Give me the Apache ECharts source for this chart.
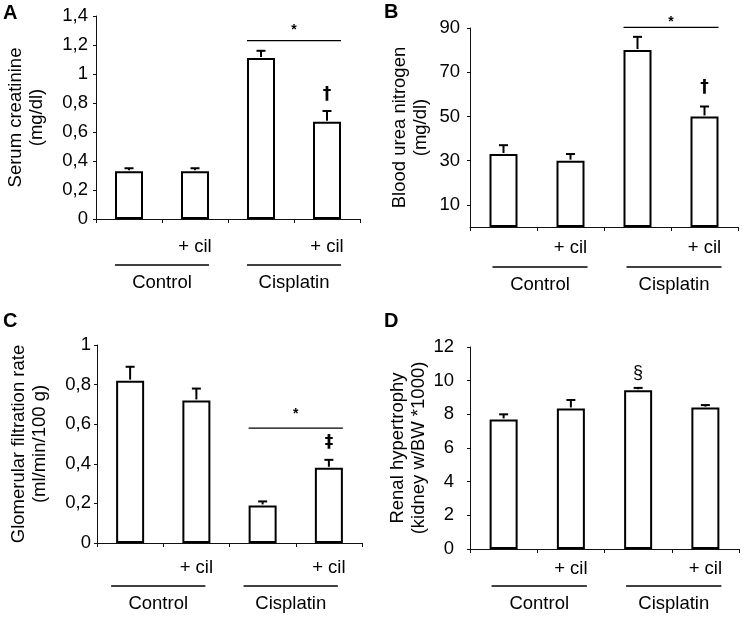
<!DOCTYPE html>
<html><head><meta charset="utf-8">
<script src="https://cdn.jsdelivr.net/npm/echarts@6/dist/echarts.min.js"></script>
<style>html,body{margin:0;padding:0;background:#fff}#c{width:742px;height:622px}</style>
</head><body><div id="c"></div>
<script>
// ---- data ----
const categories = ['', '+ cil', '', '+ cil'];
const groupNames = ['Control', 'Cisplatin'];
const creatinine = [0.33, 0.33, 1.11, 0.67];
const creatinineErr = [0.02, 0.02, 0.05, 0.075];
const bun = [33, 30, 80, 50];
const bunErr = [4, 3, 6, 4.5];
const gfr = [0.82, 0.72, 0.19, 0.38];
const gfrErr = [0.07, 0.06, 0.02, 0.04];
const hypertrophy = [7.7, 8.35, 9.43, 8.4];
const hypertrophyErr = [0.3, 0.5, 0.14, 0.15];
const bunTickValues = [10, 30, 50, 70, 90];
const panelLetters = ['A', 'B', 'C', 'D'];
const yNames = ['Serum creatinine\n(mg/dl)', 'Blood urea nitrogen\n(mg/dl)',
                'Glomerular filtration rate\n(ml/min/100 g)', 'Renal hypertrophy\n(kidney w/BW *1000)'];
// significance annotations (value-space)
const annA = [{kind:'sig', from:2, to:3, y:1.23, text:'*', ty:1.30}, {kind:'sym', from:3, y:0.855, text:'\u2020'}];
const annB = [{kind:'sig', from:2, to:3, y:90.3, text:'*', ty:92.8}, {kind:'sym', from:3, y:63, text:'\u2020'}];
const annC = [{kind:'sig', from:2, to:3, y:0.58, text:'*', ty:0.652}, {kind:'sym', from:3, y:0.505, text:'\u2021'}];
const annD = [{kind:'sym', from:2, y:10.46, text:'\u00a7', plain:true}];

// ---- layout / style ----
const FONT = '"Liberation Sans", Arial, sans-serif';
const SYMFONT = '"DejaVu Sans", "Liberation Sans", sans-serif';
const FS = 18.5;
const BAR_W = 28;
const CAP = 9;
const panels = [
  {grid:{left:96, top:16, width:264, height:203}, min:0, max:1.4, interval:0.2, vals:creatinine, errs:creatinineErr, ann:annA,
   nameGap:49, labelMargin:8, catMargin:18, gLine:46, gText:64, gdx:0, letter:[3,13]},
  {grid:{left:470, top:28, width:268, height:199}, min:0, max:90, custom:bunTickValues, vals:bun, errs:bunErr, ann:annB,
   nameGap:39, labelMargin:10, catMargin:11, gLine:40, gText:58, gdx:3, letter:[384,12]},
  {grid:{left:97, top:345, width:265, height:198}, min:0, max:1, interval:0.2, vals:gfr, errs:gfrErr, ann:annC,
   nameGap:47, labelMargin:6, catMargin:15, gLine:43, gText:61, gdx:-5, letter:[3,321]},
  {grid:{left:470, top:347, width:269, height:202}, min:0, max:12, interval:2, vals:hypertrophy, errs:hypertrophyErr, ann:annD,
   nameGap:40, labelMargin:16, catMargin:10, gLine:37, gText:55, gdx:2, letter:[384,321]}
];

const fmt = v => String(Math.round(v * 1000) / 1000).replace('.', ',');

const option = {
  animation: false,
  backgroundColor: '#fff',
  textStyle: {fontFamily: FONT, color: '#000'},
  grid: panels.map(p => p.grid),
  xAxis: panels.map((p, i) => ({
    type: 'category', gridIndex: i, data: categories,
    axisLine: {show: true, lineStyle: {color: '#111', width: 1}},
    axisTick: {show: true, length: 4, lineStyle: {color: '#111'}},
    axisLabel: {color: '#000', fontSize: FS, fontFamily: FONT, margin: p.catMargin, interval: 0}
  })),
  yAxis: panels.map((p, i) => {
    const ax = {
      type: 'value', gridIndex: i, min: p.min, max: p.max,
      name: yNames[i], nameLocation: 'middle', nameRotate: 90, nameGap: p.nameGap,
      nameTextStyle: {fontSize: FS, lineHeight: 21, color: '#000', fontFamily: FONT},
      axisLine: {show: true, lineStyle: {color: '#111', width: 1}},
      axisTick: {show: true, length: 3, lineStyle: {color: '#111'}},
      axisLabel: {color: '#000', fontSize: FS, fontFamily: FONT, margin: p.labelMargin, formatter: fmt},
      splitLine: {show: false}
    };
    if (p.custom) {
      ax.axisLabel.customValues = p.custom;
      ax.axisTick.customValues = p.custom;
    } else {
      ax.interval = p.interval;
    }
    return ax;
  }),
  series: []
};

panels.forEach((p, i) => {
  option.series.push({
    type: 'bar', xAxisIndex: i, yAxisIndex: i, data: p.vals, barWidth: BAR_W,
    itemStyle: {color: '#fff', borderColor: '#000', borderWidth: 2}, z: 2
  });
  option.series.push({
    type: 'custom', xAxisIndex: i, yAxisIndex: i, z: 3, clip: false,
    data: p.vals.map((v, k) => [k, v, v + p.errs[k]]),
    renderItem(params, api) {
      const base = api.coord([api.value(0), api.value(1)]);
      const top = api.coord([api.value(0), api.value(2)]);
      const st = {stroke: '#000', lineWidth: 2};
      return {type: 'group', children: [
        {type: 'line', shape: {x1: base[0], y1: base[1] - 1, x2: top[0], y2: top[1]}, style: st},
        {type: 'line', shape: {x1: top[0] - CAP / 2, y1: top[1], x2: top[0] + CAP / 2, y2: top[1]}, style: st}
      ]};
    }
  });
  // group lines and labels below the axis
  option.series.push({
    type: 'custom', xAxisIndex: i, yAxisIndex: i, z: 3, clip: false,
    data: groupNames.map((g, k) => [k * 2, p.min, k * 2 + 1]),
    renderItem(params, api) {
      const axisY = api.coord([0, p.min])[1];
      const x0 = api.coord([api.value(0), p.min])[0] - BAR_W / 2 + p.gdx;
      const x1 = api.coord([api.value(2), p.min])[0] + BAR_W / 2 + p.gdx;
      return {type: 'group', children: [
        {type: 'line', shape: {x1: x0, y1: axisY + p.gLine, x2: x1, y2: axisY + p.gLine}, style: {stroke: '#000', lineWidth: 1.3}},
        {type: 'text', style: {text: groupNames[params.dataIndex], x: (x0 + x1) / 2, y: axisY + p.gText,
          fill: '#000', font: FS + 'px ' + FONT, align: 'center', verticalAlign: 'middle'}}
      ]};
    }
  });
  // significance annotations
  option.series.push({
    type: 'custom', xAxisIndex: i, yAxisIndex: i, z: 4, clip: false,
    data: p.ann.map(a => [a.from, a.y]),
    renderItem(params, api) {
      const a = p.ann[params.dataIndex];
      if (a.kind === 'sig') {
        const y = api.coord([a.from, a.y])[1];
        const x0 = api.coord([a.from, a.y])[0] - BAR_W / 2;
        const x1 = api.coord([a.to, a.y])[0] + BAR_W / 2;
        const ty = api.coord([a.from, a.ty])[1];
        return {type: 'group', children: [
          {type: 'line', shape: {x1: x0, y1: y, x2: x1, y2: y}, style: {stroke: '#000', lineWidth: 1.3}},
          {type: 'text', style: {text: a.text, x: (x0 + x1) / 2, y: ty, fill: '#000',
            font: 'bold 14px ' + FONT, align: 'center', verticalAlign: 'middle'}}
        ]};
      }
      const pt = api.coord([a.from, a.y]);
      return {type: 'text', style: {text: a.text, x: pt[0], y: pt[1], fill: '#000',
        font: a.plain ? ('18px ' + FONT) : ('bold 17px ' + SYMFONT), align: 'center', verticalAlign: 'middle'}};
    }
  });
});

option.graphic = panels.map((p, i) => ({
  type: 'text', x: p.letter[0], y: p.letter[1],
  style: {text: panelLetters[i], fill: '#000', font: 'bold 20px ' + FONT, align: 'left', verticalAlign: 'middle'}
}));

const chart = echarts.init(document.getElementById('c'), null, {renderer: 'canvas'});
chart.setOption(option);
</script>
</body></html>
